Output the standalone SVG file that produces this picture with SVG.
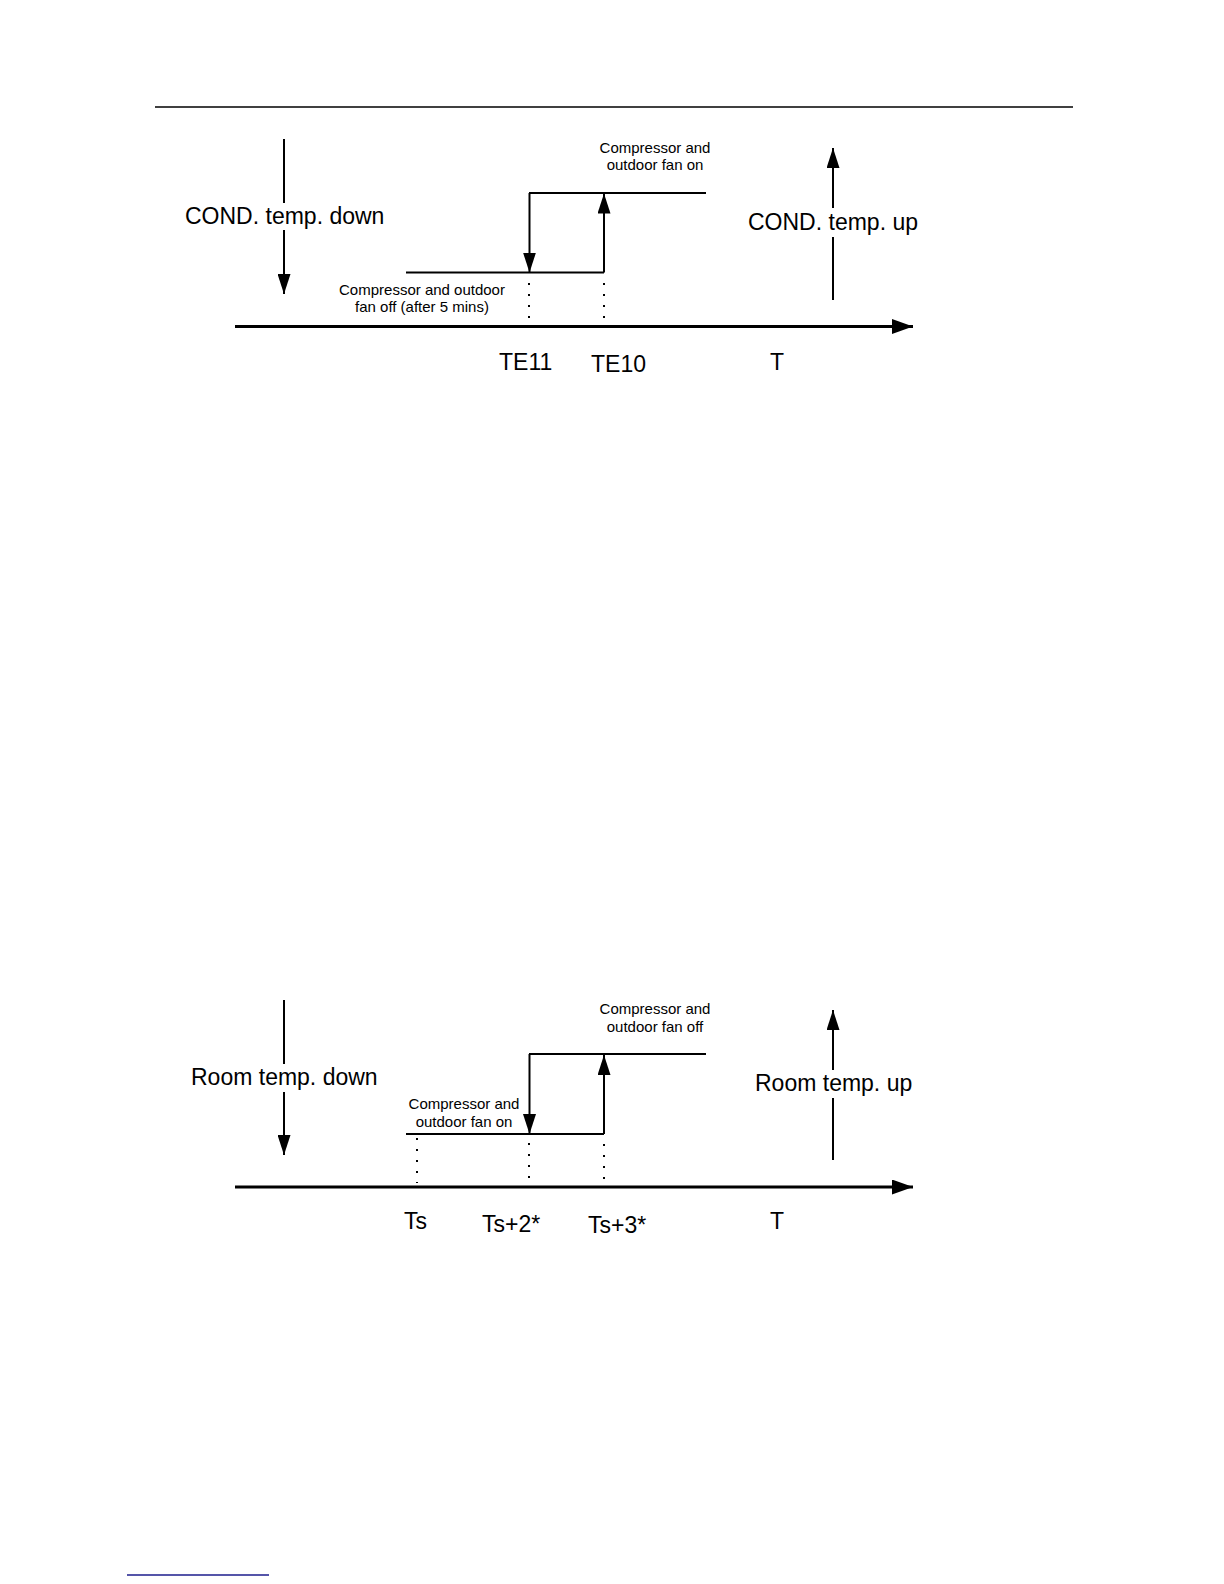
<svg xmlns="http://www.w3.org/2000/svg" width="1224" height="1584" viewBox="0 0 1224 1584">
  <style>
    .ln { stroke: #000; stroke-width: 2; fill: none; }
    .ax { stroke: #000; stroke-width: 3; fill: none; }
    .dot { stroke: #000; stroke-width: 2; fill: none; stroke-dasharray: 2 9; }
    .big { font-family: "Liberation Sans", Arial, sans-serif; font-size: 23px; fill: #000; }
    .sm { font-family: "Liberation Sans", Arial, sans-serif; font-size: 15px; fill: #000; text-anchor: middle; }
  </style>
  <defs>
    <marker id="ah" markerUnits="userSpaceOnUse" markerWidth="20" markerHeight="13" refX="20" refY="6.5" orient="auto">
      <path d="M0,0 L20,6.5 L0,13 Z" fill="#000"/>
    </marker>
    <marker id="axh" markerUnits="userSpaceOnUse" markerWidth="21" markerHeight="15" refX="21" refY="7.5" orient="auto">
      <path d="M0,0 L21,7.5 L0,15 Z" fill="#000"/>
    </marker>
  </defs>
  <rect width="1224" height="1584" fill="#fff"/>

  <!-- page header and footer rules -->
  <line x1="155" y1="107" x2="1073" y2="107" stroke="#000" stroke-width="1.6"/>
  <line x1="127" y1="1575" x2="269" y2="1575" stroke="#1c1c8c" stroke-width="1.3"/>

  <!-- Diagram 1 -->
  <g id="diagram1">
    <g id="d1-connectors">
      <path class="ln" d="M284,139 V203"/>
      <path class="ln" d="M284,230 V294" marker-end="url(#ah)"/>
      <path class="ln" d="M833,300 V237"/>
      <path class="ln" d="M833,208 V148" marker-end="url(#ah)"/>
      <path class="ln" d="M406,272.5 H604"/>
      <path class="ln" d="M604,272.5 V193.5" marker-end="url(#ah)"/>
      <path class="ln" d="M529,193 H706"/>
      <path class="ln" d="M529.5,193 V272.5" marker-end="url(#ah)"/>
      <path class="dot" d="M529,283 V320"/>
      <path class="dot" d="M604,283 V320"/>
      <path class="ax" d="M235,326.5 H913" marker-end="url(#axh)"/>
    </g>
    <g id="d1-cond-down"><text class="big" x="185" y="224">COND. temp. down</text></g>
    <g id="d1-cond-up"><text class="big" x="748" y="230">COND. temp. up</text></g>
    <g id="d1-on">
      <text class="sm" x="655" y="153">Compressor and</text>
      <text class="sm" x="655" y="170">outdoor fan on</text>
    </g>
    <g id="d1-off">
      <text class="sm" x="422" y="295">Compressor and outdoor</text>
      <text class="sm" x="422" y="312">fan off (after 5 mins)</text>
    </g>
    <g id="d1-te11"><text class="big" x="499" y="370">TE11</text></g>
    <g id="d1-te10"><text class="big" x="591" y="372">TE10</text></g>
    <g id="d1-t"><text class="big" x="770" y="370">T</text></g>
  </g>

  <!-- Diagram 2 -->
  <g id="diagram2">
    <g id="d2-connectors">
      <path class="ln" d="M284,1000 V1064"/>
      <path class="ln" d="M284,1092 V1155" marker-end="url(#ah)"/>
      <path class="ln" d="M833,1160 V1098"/>
      <path class="ln" d="M833,1070 V1010" marker-end="url(#ah)"/>
      <path class="ln" d="M406,1134 H604"/>
      <path class="ln" d="M604,1134 V1055" marker-end="url(#ah)"/>
      <path class="ln" d="M529,1054 H706"/>
      <path class="ln" d="M529.5,1054 V1134" marker-end="url(#ah)"/>
      <path class="dot" d="M417,1138 V1183"/>
      <path class="dot" d="M529,1143 V1181"/>
      <path class="dot" d="M604,1144 V1181"/>
      <path class="ax" d="M235,1187 H913" marker-end="url(#axh)"/>
    </g>
    <g id="d2-room-down"><text class="big" x="191" y="1085">Room temp. down</text></g>
    <g id="d2-room-up"><text class="big" x="755" y="1091">Room temp. up</text></g>
    <g id="d2-on">
      <text class="sm" x="464" y="1109">Compressor and</text>
      <text class="sm" x="464" y="1127">outdoor fan on</text>
    </g>
    <g id="d2-off">
      <text class="sm" x="655" y="1014">Compressor and</text>
      <text class="sm" x="655" y="1032">outdoor fan off</text>
    </g>
    <g id="d2-ts"><text class="big" x="404" y="1229">Ts</text></g>
    <g id="d2-ts2"><text class="big" x="482" y="1232">Ts+2*</text></g>
    <g id="d2-ts3"><text class="big" x="588" y="1233">Ts+3*</text></g>
    <g id="d2-t"><text class="big" x="770" y="1229">T</text></g>
  </g>
</svg>
